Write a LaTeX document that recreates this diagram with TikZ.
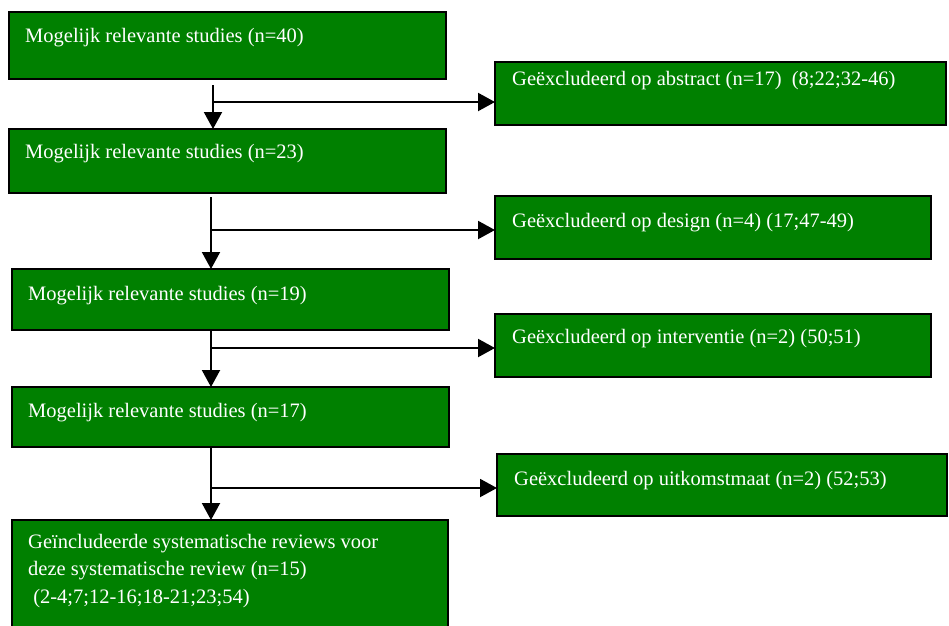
\documentclass[tikz,border=0pt]{standalone}
\usepackage{fontspec}
\setmainfont{Liberation Serif}
\usetikzlibrary{arrows.meta,calc}
\definecolor{boxgreen}{RGB}{0,128,0}
\tikzset{
  box/.style={draw=black, line width=2.5pt, fill=boxgreen, rectangle,
    inner sep=0pt, outer sep=0pt, anchor=north west},
  txt/.style={text=white, font=\fontsize{20.5}{27.5}\selectfont,
    inner sep=0pt, anchor=base west, align=left},
  conn/.style={draw=black, line width=2pt},
  tip/.style={conn, -{Triangle[length=17pt,width=18pt]}}
}
\begin{document}
\begin{tikzpicture}[x=1pt, y=-1pt]
\clip (0,0) rectangle (949,625);
\fill[white] (0,0) rectangle (949,625);

% main column
\node[box, minimum width=437pt, minimum height=67pt] (l1) at (9,12) {};
\node[box, minimum width=437pt, minimum height=64pt] (l2) at (9,129) {};
\node[box, minimum width=437pt, minimum height=61pt] (l3) at (12,269) {};
\node[box, minimum width=437pt, minimum height=60pt] (l4) at (12,387) {};
\node[box, minimum width=436pt, minimum height=130pt] (l5) at (12,520) {};

% exclusion column
\node[box, minimum width=451pt, minimum height=63pt] (r1) at (495,62) {};
\node[box, minimum width=436pt, minimum height=63pt] (r2) at (495,196) {};
\node[box, minimum width=436pt, minimum height=63pt] (r3) at (495,314) {};
\node[box, minimum width=450pt, minimum height=62pt] (r4) at (497,454) {};

% texts (base west sits on the last line of a multi-line text)
\node[txt] (l1t) at ($(l1.north west)+(16,30)$) {Mogelijk relevante studies (n=40)};
\node[txt] (l2t) at ($(l2.north west)+(16,29)$) {Mogelijk relevante studies (n=23)};
\node[txt] (l3t) at ($(l3.north west)+(16,31)$) {Mogelijk relevante studies (n=19)};
\node[txt] (l4t) at ($(l4.north west)+(16,30)$) {Mogelijk relevante studies (n=17)};
\node[txt] (l5t) at ($(l5.north west)+(16,83)$) {Geïncludeerde systematische reviews voor\\deze systematische review (n=15)\\\ (2-4;7;12-16;18-21;23;54)};

\node[txt] (r1t) at ($(r1.north west)+(17,23)$) {Geëxcludeerd op abstract (n=17)\ \ (8;22;32-46)};
\node[txt] (r2t) at ($(r2.north west)+(17,31)$) {Geëxcludeerd op design (n=4) (17;47-49)};
\node[txt] (r3t) at ($(r3.north west)+(17,29)$) {Geëxcludeerd op interventie (n=2) (50;51)};
\node[txt] (r4t) at ($(r4.north west)+(17,31)$) {Geëxcludeerd op uitkomstmaat (n=2) (52;53)};

% connector start and branch points
\coordinate (s1) at (213,85);  \coordinate (b1) at (213,102);
\coordinate (s2) at (211,197); \coordinate (b2) at (211,230);
\coordinate (s3) at (211,330); \coordinate (b3) at (211,348);
\coordinate (s4) at (211,447); \coordinate (b4) at (211,488);

% downward flow
\draw[tip] (s1) -- (s1 |- l2.north);
\draw[tip] (s2) -- (s2 |- l3.north);
\draw[tip] (s3) -- (s3 |- l4.north);
\draw[tip] (s4) -- (s4 |- l5.north);

% exclusions
\draw[tip] (b1) -- (b1 -| r1.west);
\draw[tip] (b2) -- (b2 -| r2.west);
\draw[tip] (b3) -- (b3 -| r3.west);
\draw[tip] (b4) -- (b4 -| r4.west);
\end{tikzpicture}
\end{document}
